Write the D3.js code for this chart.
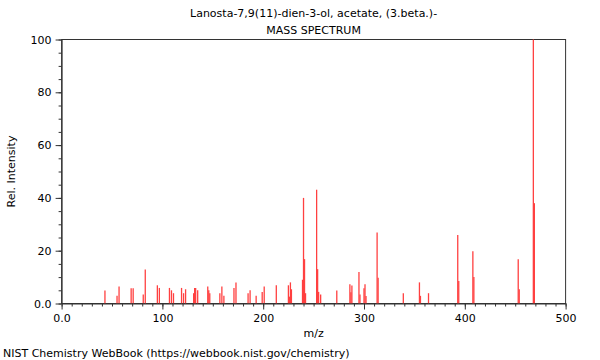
<!DOCTYPE html>
<html>
<head>
<meta charset="utf-8">
<script src="https://cdn.jsdelivr.net/npm/d3@7"></script>
<style>
  body { margin: 0; background: #fff; }
  svg text { font-family: "DejaVu Sans", sans-serif; font-size: 11px; fill: #000; }
</style>
</head>
<body>
<svg id="chart" width="600" height="360"></svg>
<script>
var mz = [43, 55, 57, 69, 71, 81, 83, 95, 97, 107, 109, 111, 119, 121, 123, 131, 132, 133, 135,
  145, 146, 147, 157, 159, 161, 171, 173, 185, 187, 193, 199, 201, 213, 225, 226, 227, 228,
  239, 240, 241, 242, 253, 254, 255, 257, 273, 286, 287, 288, 295, 296, 300, 301, 302,
  313, 314, 339, 355, 356, 364, 393, 394, 408, 409, 453, 454, 468, 469];
var intensity = [4.9, 2.9, 6.4, 5.8, 5.8, 3.4, 12.9, 6.9, 5.9, 5.9, 5.0, 3.9, 5.9, 3.9, 5.4, 3.9, 5.9, 5.9, 5.0,
  6.4, 5.0, 3.9, 3.9, 6.4, 2.9, 5.9, 8.0, 3.9, 5.0, 2.9, 4.4, 6.4, 6.9, 6.9, 2.6, 8.0, 5.4,
  9.0, 40.0, 16.8, 3.9, 43.1, 13.0, 4.4, 3.4, 4.9, 7.3, 4.3, 6.8, 11.9, 3.4, 5.8, 7.3, 2.8,
  26.9, 9.8, 3.9, 8.0, 2.9, 3.9, 25.9, 8.5, 19.8, 10.0, 16.8, 5.4, 100, 38.0];

var xTicks = [0, 100, 200, 300, 400, 500];
var yTicks = [0, 20, 40, 60, 80, 100];

var svg = d3.select("#chart");
var mLeft = 61.6, mRight = 565.6, mTop = 39.5, mBottom = 303.5;

var x = d3.scaleLinear().domain([0, 500]).range([mLeft, mRight]);
var y = d3.scaleLinear().domain([0, 100]).range([mBottom, mTop]);

function fmt(d) { return d === 0 ? "0.0" : String(d); }

// marco
svg.append("rect")
    .attr("x", mLeft).attr("y", mTop)
    .attr("width", mRight - mLeft).attr("height", mBottom - mTop)
    .style("fill", "none")
    .style("stroke", "#333")
    .style("stroke-width", 1);

// picos
svg.append("g").selectAll("line")
    .data(mz)
    .enter().append("line")
    .attr("x1", function (d) { return x(d); })
    .attr("x2", function (d) { return x(d); })
    .attr("y1", y(0))
    .attr("y2", function (d, i) { return y(intensity[i]); })
    .style("stroke", "#ff4040")
    .style("stroke-width", 1.3);

// eje x
var xAxis = svg.append("g")
    .attr("transform", "translate(0," + mBottom + ")")
    .call(d3.axisBottom(x).tickValues(xTicks).tickFormat(fmt).tickSize(6).tickSizeOuter(0));
svg.append("g")
    .attr("transform", "translate(0," + mBottom + ")")
    .call(d3.axisBottom(x).tickValues(d3.range(0, 501, 10)).tickFormat("").tickSize(3).tickSizeOuter(0))
    .select(".domain").remove();

// eje y
var yAxis = svg.append("g")
    .attr("transform", "translate(" + mLeft + ",0)")
    .call(d3.axisLeft(y).tickValues(yTicks).tickFormat(fmt).tickSize(6).tickSizeOuter(0));
svg.append("g")
    .attr("transform", "translate(" + mLeft + ",0)")
    .call(d3.axisLeft(y).tickValues(d3.range(0, 101, 5)).tickFormat("").tickSize(3).tickSizeOuter(0))
    .select(".domain").remove();

svg.selectAll(".tick line, .domain").style("stroke", "#333");
svg.selectAll(".tick text").style("font-family", "DejaVu Sans").style("font-size", "11px").style("fill", "#000");
xAxis.selectAll(".tick text").attr("dy", "0.9em");
yAxis.selectAll(".tick text").attr("dx", "-1px");

// textos
var cx = (mLeft + mRight) / 2;
svg.append("text").attr("x", cx).attr("y", 17).attr("text-anchor", "middle")
    .text("Lanosta-7,9(11)-dien-3-ol, acetate, (3.beta.)-");
svg.append("text").attr("x", cx).attr("y", 34).attr("text-anchor", "middle")
    .text("MASS SPECTRUM");
svg.append("text").attr("x", cx).attr("y", 337).attr("text-anchor", "middle")
    .text("m/z");
svg.append("text")
    .attr("transform", "translate(15," + ((mTop + mBottom) / 2) + ") rotate(-90)")
    .attr("text-anchor", "middle")
    .text("Rel. Intensity");
svg.append("text").attr("x", 3).attr("y", 357)
    .text("NIST Chemistry WebBook (https://webbook.nist.gov/chemistry)");
</script>
</body>
</html>
